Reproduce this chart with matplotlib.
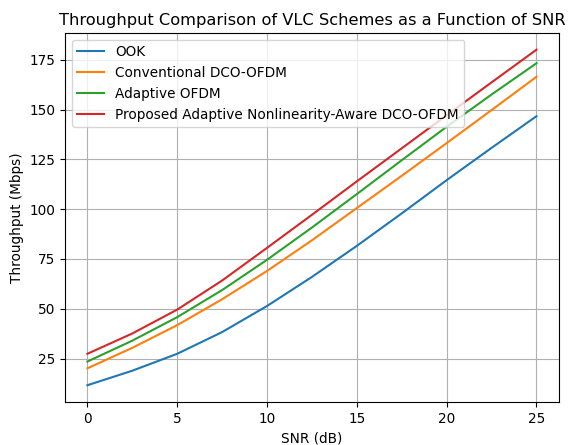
import matplotlib
matplotlib.use("Agg")
import matplotlib.pyplot as plt

snr_db = [0, 2.5, 5, 7.5, 10, 12.5, 15, 17.5, 20, 22.5, 25]
ook = [11.6, 18.9, 27.4, 38.3, 51.4, 66.0, 81.6, 97.9, 114.6, 130.8, 146.7]
conv_dco = [20.1, 30.4, 41.8, 54.8, 69.0, 84.4, 100.6, 116.8, 133.2, 149.8, 166.5]
adaptive_ofdm = [23.5, 34.0, 45.8, 59.4, 74.6, 90.8, 107.6, 124.6, 141.4, 157.6, 173.3]
proposed = [27.4, 37.6, 49.6, 64.2, 80.6, 97.2, 114.0, 130.6, 147.2, 163.7, 180.1]

labels = ["OOK", "Conventional DCO-OFDM", "Adaptive OFDM",
          "Proposed Adaptive Nonlinearity-Aware DCO-OFDM"]

fig = plt.figure(figsize=(5.68, 4.45), dpi=100)
ax = fig.add_axes([0.1144, 0.0966, 0.8696, 0.8294])
for series, lab in zip([ook, conv_dco, adaptive_ofdm, proposed], labels):
    ax.plot(snr_db, series, label=lab, linewidth=1.5)

ax.set_title("Throughput Comparison of VLC Schemes as a Function of SNR", fontsize=11.7)
ax.set_xlabel("SNR (dB)", fontsize=9.8)
ax.set_ylabel("Throughput (Mbps)", fontsize=9.8)
ax.tick_params(labelsize=9.8)
ax.set_xticks([0, 5, 10, 15, 20, 25])
ax.set_yticks([25, 50, 75, 100, 125, 150, 175])
ax.grid(True)
ax.legend(loc="upper left", fontsize=9.8)
fig.savefig("out.png", dpi=100)
